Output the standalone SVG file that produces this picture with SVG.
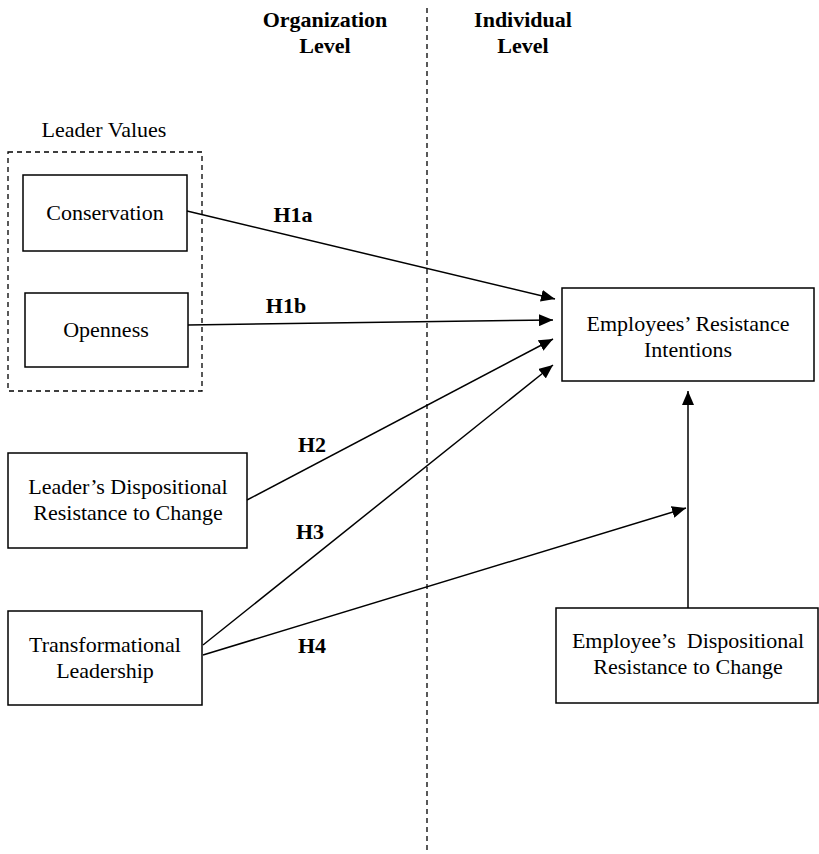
<svg xmlns="http://www.w3.org/2000/svg" width="819" height="854" viewBox="0 0 819 854">
<style>
text{font-family:"Liberation Serif","Times New Roman",serif;font-size:22px;fill:#000;text-anchor:middle}
.b{font-weight:bold}
.box{fill:#fff;stroke:#000;stroke-width:1.5}
.dash{fill:none;stroke:#000;stroke-width:1.3;stroke-dasharray:5,4}
.edge{fill:none;stroke:#000;stroke-width:1.5;marker-end:url(#ah)}
</style>
<defs>
<marker id="ah" markerUnits="userSpaceOnUse" markerWidth="16" markerHeight="12" refX="14" refY="6" orient="auto">
<path d="M0,0 L14,6 L0,12 Z" fill="#000"/>
</marker>
</defs>
<rect width="819" height="854" fill="#fff"/>
<g id="divider">
<line class="dash" x1="427" y1="8" x2="427" y2="854"/>
<text class="b" x="325" y="27">Organization</text>
<text class="b" x="325" y="53">Level</text>
<text class="b" x="523" y="27">Individual</text>
<text class="b" x="523" y="53">Level</text>
</g>
<g id="leader-values">
<rect class="dash" x="8" y="152" width="194" height="239"/>
<text x="104" y="137">Leader Values</text>
</g>
<g id="conservation">
<rect class="box" x="23" y="175" width="164" height="76"/>
<text x="105" y="220">Conservation</text>
</g>
<g id="openness">
<rect class="box" x="25" y="293" width="163" height="74"/>
<text x="106" y="337">Openness</text>
</g>
<g id="leader-disp">
<rect class="box" x="8" y="453" width="239" height="95"/>
<text x="128" y="494">Leader’s Dispositional</text>
<text x="128" y="520">Resistance to Change</text>
</g>
<g id="transformational">
<rect class="box" x="8" y="611" width="194" height="94"/>
<text x="105" y="652">Transformational</text>
<text x="105" y="678">Leadership</text>
</g>
<g id="employees-resistance">
<rect class="box" x="562" y="288" width="252" height="93"/>
<text x="688" y="331">Employees’ Resistance</text>
<text x="688" y="357">Intentions</text>
</g>
<g id="employee-disp">
<rect class="box" x="556" y="608" width="262" height="95"/>
<text x="688" y="648">Employee’s&#160; Dispositional</text>
<text x="688" y="674">Resistance to Change</text>
</g>
<g id="connectors">
<line class="edge" x1="187" y1="211" x2="555" y2="299"/>
<line class="edge" x1="188" y1="325" x2="553" y2="320"/>
<line class="edge" x1="247" y1="500" x2="553" y2="339"/>
<line class="edge" x1="203" y1="645" x2="553" y2="365"/>
<line class="edge" x1="203" y1="655" x2="686" y2="508"/>
<line class="edge" x1="688" y1="608" x2="688" y2="391"/>
<text class="b" x="293" y="222">H1a</text>
<text class="b" x="286" y="313">H1b</text>
<text class="b" x="312" y="452">H2</text>
<text class="b" x="310" y="539">H3</text>
<text class="b" x="312" y="653">H4</text>
</g>
</svg>
